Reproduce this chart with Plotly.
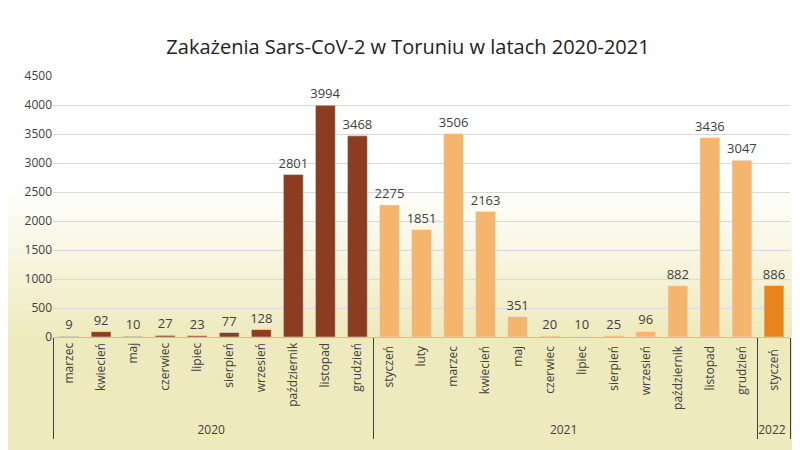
import plotly.graph_objects as go

months_2020 = ["marzec", "kwiecień", "maj", "czerwiec", "lipiec", "sierpień",
               "wrzesień", "październik", "listopad", "grudzień"]
cases_2020 = [9, 92, 10, 27, 23, 77, 128, 2801, 3994, 3468]
months_2021 = ["styczeń", "luty", "marzec", "kwiecień", "maj", "czerwiec", "lipiec",
               "sierpień", "wrzesień", "październik", "listopad", "grudzień"]
cases_2021 = [2275, 1851, 3506, 2163, 351, 20, 10, 25, 96, 882, 3436, 3047]
months_2022 = ["styczeń"]
cases_2022 = [886]

years = ["2020"] * len(months_2020) + ["2021"] * len(months_2021) + ["2022"] * len(months_2022)
# trailing spaces keep repeated month names as separate categories (order preserved)
months = ([m for m in months_2020] + [m + " " for m in months_2021]
          + [m + "  " for m in months_2022])
cases = cases_2020 + cases_2021 + cases_2022
colors = (["#8B3E1F"] * len(months_2020) + ["#F4B56D"] * len(months_2021)
          + ["#E8841A"] * len(months_2022))

fig = go.Figure(go.Bar(
    x=[years, months], y=cases,
    marker=dict(color=colors),
    text=cases, textposition="outside", constraintext="none",
    textfont=dict(color="#404040", size=13),
    cliponaxis=False, width=0.62,
))

# pale yellow gradient behind the chart
shapes = []
n = 30
for i in range(n):
    t = i / (n - 1)
    r = round(255 + (238 - 255) * t)
    g = round(255 + (234 - 255) * t)
    b = round(255 + (190 - 255) * t)
    shapes.append(dict(type="rect", xref="paper", yref="paper", layer="below",
                       x0=-0.1, x1=1.1, y0=-1, y1=0.6 - 0.6 * i / n,
                       fillcolor=f"rgb({r},{g},{b})", line=dict(width=0)))

fig.update_layout(
    width=800, height=450,
    title=dict(text="Zakażenia Sars-CoV-2 w Toruniu w latach 2020-2021",
               x=0.5, y=0.93, font=dict(size=20, color="#222222")),
    font=dict(family="Open Sans, Liberation Sans, sans-serif", color="#404040"),
    paper_bgcolor="white", plot_bgcolor="rgba(0,0,0,0)",
    margin=dict(l=45, r=18, t=68, b=121),
    shapes=shapes, showlegend=False,
    yaxis=dict(range=[0, 4500], dtick=500, gridcolor="#D9D9D9",
               tickfont=dict(size=12, color="#404040"), zeroline=False),
    xaxis=dict(tickangle=-90, tickfont=dict(size=12, color="#404040"),
               showdividers=True, dividercolor="#404040", automargin=False,
               showline=True, linecolor="#BFBFBF"),
)

fig.write_html("out.html")
